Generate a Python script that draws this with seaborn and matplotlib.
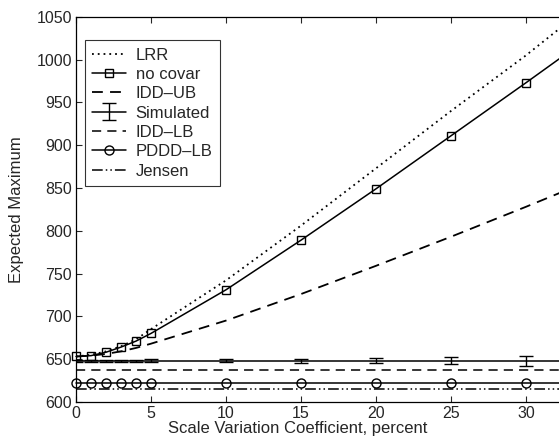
import numpy as np
import matplotlib
matplotlib.use("Agg")
import matplotlib.pyplot as plt
import seaborn as sns

# scale variation coefficient (percent)
cv = [0, 1, 2, 3, 4, 5, 10, 15, 20, 25, 30, 35]

lrr = [653, 655, 659, 665, 673, 685, 742, 806, 873, 940, 1005, 1075]
no_covar = [653, 654, 658, 664, 671, 680, 731, 789, 849, 911, 973, 1036]
idd_ub = [653, 654, 656, 659, 663, 668, 695, 726, 759, 793, 828, 864]
simulated = [648, 648, 648, 648, 648, 648, 648, 648, 648, 648, 648, 648]
sim_err = [1, 1, 1, 1, 1, 1.5, 2, 2.5, 3, 4, 6, 6]
idd_lb = [637] * len(cv)
pddd_lb = [622] * len(cv)
jensen = [615] * len(cv)

sns.set_style("ticks")
plt.rcParams['font.family'] = ['Liberation Sans', 'DejaVu Sans']
plt.rcParams['xtick.direction'] = 'in'
plt.rcParams['ytick.direction'] = 'in'

fig = plt.figure(figsize=(5.59, 4.45), dpi=100)
ax = fig.add_axes([0.136, 0.097, 0.939, 0.865])

k = 'black'
sns.lineplot(x=cv, y=lrr, ax=ax, color=k, linestyle=(0, (1, 2.2)), lw=1.3, label='LRR')
sns.lineplot(x=cv, y=no_covar, ax=ax, color=k, lw=1.1, marker='s', markersize=6,
             markerfacecolor='none', markeredgecolor=k, markeredgewidth=1.0,
             label='no covar', clip_on=False)
sns.lineplot(x=cv, y=idd_ub, ax=ax, color=k, linestyle=(0, (6, 4)), lw=1.3, label='IDD\u2013UB')
ax.errorbar(cv, simulated, yerr=sim_err, color=k, lw=1.1, capsize=5, elinewidth=1.0,
            label='Simulated')
sns.lineplot(x=cv, y=idd_lb, ax=ax, color=k, linestyle=(0, (6, 4)), lw=1.1, label='IDD\u2013LB')
sns.lineplot(x=cv, y=pddd_lb, ax=ax, color=k, lw=1.1, marker='o', markersize=6.5,
             markerfacecolor='none', markeredgecolor=k, markeredgewidth=1.0,
             label='PDDD\u2013LB', clip_on=False)
sns.lineplot(x=cv, y=jensen, ax=ax, color=k, linestyle=(0, (7, 2, 1, 2, 1, 2)), lw=1.1,
             label='Jensen')

ax.set_xlim(0, 35)
ax.set_ylim(600, 1050)
ax.set_xticks([0, 5, 10, 15, 20, 25, 30])
ax.set_yticks(np.arange(600, 1051, 50))
ax.tick_params(labelsize=11.5, length=4, top=True, right=True, width=0.8, pad=3)
for s in ax.spines.values():
    s.set_linewidth(0.9)
    s.set_color(k)

ax.set_xlabel('Scale Variation Coefficient, percent', fontsize=12)
ax.set_ylabel('Expected Maximum', fontsize=12)
ax.xaxis.set_label_coords(0.423, -0.049)
ax.yaxis.set_label_coords(-0.099, 0.5)

order = ['LRR', 'no covar', 'IDD\u2013UB', 'Simulated', 'IDD\u2013LB', 'PDDD\u2013LB', 'Jensen']
handles, labels = ax.get_legend_handles_labels()
lookup = dict(zip(labels, handles))
leg = ax.legend([lookup[n] for n in order], order, loc='upper left',
                bbox_to_anchor=(0.017, 0.940), borderaxespad=0, fontsize=12,
                frameon=True, fancybox=False, edgecolor=k, handlelength=2.0,
                handletextpad=0.6, borderpad=0.45, labelspacing=0.26)
leg.get_frame().set_linewidth(0.8)

fig.savefig('out.png', dpi=100)
